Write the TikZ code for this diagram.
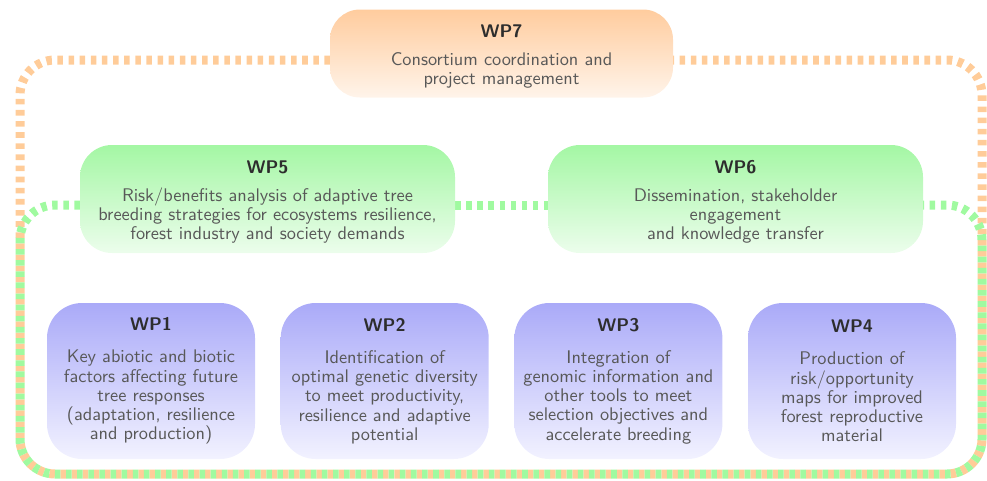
\documentclass[tikz,border=0pt]{standalone}
\usetikzlibrary{backgrounds,calc}
\DeclareFontFamily{TU}{lmssten}{}
\DeclareFontShape{TU}{lmssten}{m}{n}{<-> \UnicodeFontFile{lmsans10-regular}{\UnicodeFontTeXLigatures}}{}
\DeclareFontShape{TU}{lmssten}{bx}{n}{<-> \UnicodeFontFile{lmsans10-bold}{\UnicodeFontTeXLigatures}}{}
\definecolor{orangeline}{RGB}{255,204,153}
\definecolor{greenline}{RGB}{160,250,160}
\definecolor{bodygray}{RGB}{88,88,88}
\definecolor{titlegray}{RGB}{45,45,45}
\definecolor{orangetop}{RGB}{255,204,158}
\definecolor{orangebot}{RGB}{255,244,234}
\definecolor{greentop}{RGB}{164,247,164}
\definecolor{greenbot}{RGB}{236,253,236}
\definecolor{bluetop}{RGB}{170,170,248}
\definecolor{bluebot}{RGB}{242,242,255}
\newcommand{\wptitle}[1]{\textcolor{titlegray}{\bfseries #1}}
\newcommand{\wptitlelow}[1]{\textcolor{titlegray}{\bfseries\rule{0pt}{19pt}#1}}
\begin{document}
\begin{tikzpicture}[x=1pt,y=-1pt,
  wpbase/.style={align=center, outer sep=0pt, inner sep=0pt, text=bodygray,
    font=\fontfamily{lmssten}\fontsize{18.3}{19.2}\selectfont},
  orangebox/.style={wpbase, top color=orangetop, bottom color=orangebot,
    rounded corners=30pt, minimum width=343pt, minimum height=88pt},
  greenbox/.style={wpbase, top color=greentop, bottom color=greenbot,
    rounded corners=32pt, minimum width=375pt, minimum height=108pt},
  bluebox/.style={wpbase, top color=bluetop, bottom color=bluebot,
    rounded corners=35pt, minimum width=208pt, minimum height=156pt},
  loopline/.style={line width=9pt, line cap=butt,
    dash pattern=on 5.5634pt off 5.5634pt, rounded corners=35pt},
]
\useasboundingbox (0,0) rectangle (987,480);

\node[orangebox] (WP7) at (501.5,53.5) {\wptitlelow{WP7}\\[9pt]Consortium coordination and\\project management};

\node[greenbox] (WP5) at (267.5,199) {\wptitlelow{WP5}\\[9pt]Risk/benefits analysis of adaptive tree\\breeding strategies for ecosystems resilience,\\forest industry and society demands};
\node[greenbox] (WP6) at (735.5,199) {\wptitlelow{WP6}\\[9pt]Dissemination, stakeholder\\engagement\\and knowledge transfer};

\node[bluebox] (WP1) at (151,381) {\wptitle{WP1}\\[13pt]Key abiotic and biotic\\factors affecting future\\tree responses\\(adaptation, resilience\\and production)};
\node[bluebox] (WP2) at (384.7,381) {\wptitle{WP2}\\[13pt]Identification of\\optimal genetic diversity\\to meet productivity,\\resilience and adaptive\\potential};
\node[bluebox] (WP3) at (618.4,381) {\wptitle{WP3}\\[13pt]Integration of\\genomic information and\\other tools to meet\\selection objectives and\\accelerate breeding};
\node[bluebox] (WP4) at (852,381) {\wptitle{WP4}\\[13pt]Production of\\risk/opportunity\\maps for improved\\forest reproductive\\material};

\coordinate (otl) at (20,60);
\coordinate (otr) at (982,60);
\coordinate (gtl) at (20,205);
\coordinate (gtr) at (982,205);
\coordinate (bl) at (20,474);
\coordinate (br) at (982,474);

\begin{scope}[on background layer]
\draw[loopline, orangeline] ($(WP7.west)+(0,6.5)$) -- (otl) -- (bl) -- (br) -- (otr) -- ($(WP7.east)+(0,6.5)$);
\draw[loopline, greenline] ($(WP5.west)+(0,6)$) -- (gtl) -- (bl) -- (br) -- (gtr) -- ($(WP6.east)+(0,6)$);
\draw[loopline, greenline] ($(WP5.east)+(0,6)$) -- ($(WP6.west)+(0,6)$);
\end{scope}
\end{tikzpicture}
\end{document}
